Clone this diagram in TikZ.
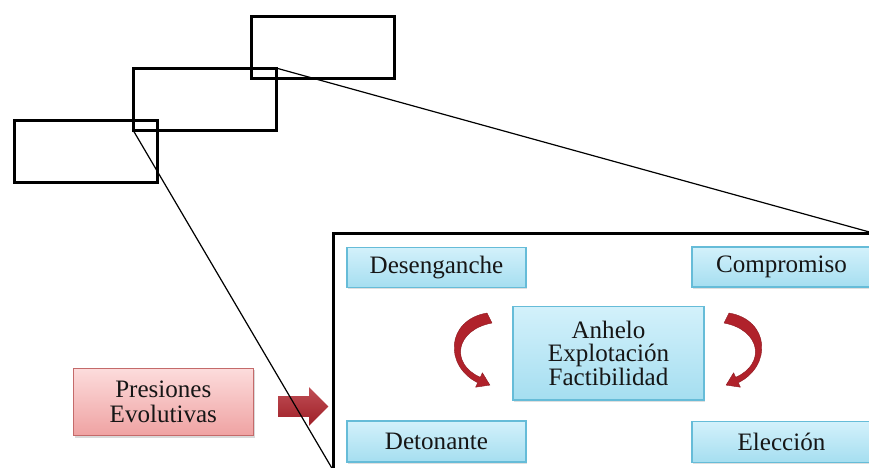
\documentclass[tikz,border=0pt]{standalone}
\usepackage{fontspec}
\setmainfont{Liberation Serif}
\usetikzlibrary{shadows,shapes.arrows}

\definecolor{boxtop}{HTML}{D3F1FB}
\definecolor{boxbot}{HTML}{A5DEF0}
\definecolor{boxline}{HTML}{66BCD8}
\definecolor{pinktop}{HTML}{FCDCDC}
\definecolor{pinkbot}{HTML}{EFA2A2}
\definecolor{pinkline}{HTML}{C46A6A}
\definecolor{swoosh}{HTML}{B0222B}
\definecolor{txt}{HTML}{161616}

\tikzset{
  zoomrect/.style={draw=black, line width=2.25pt, inner sep=0pt, outer sep=0pt,
    minimum width=107.25pt, minimum height=46.5pt},
  zoomline/.style={draw=black, line width=0.9pt},
  stage/.style={draw=boxline, line width=0.8pt, top color=boxtop, bottom color=boxbot,
    text=txt, font=\fontsize{18.8}{17.8}\selectfont, inner sep=0pt, align=center,
    minimum width=134.25pt,
    drop shadow={opacity=0.25, shadow xshift=1pt, shadow yshift=-1.2pt}},
  pressure/.style={draw=pinkline, line width=0.8pt, top color=pinktop, bottom color=pinkbot,
    text=txt, font=\fontsize{18.8}{18.6}\selectfont, inner sep=0pt, align=center,
    drop shadow={opacity=0.3, shadow xshift=1.2pt, shadow yshift=-1.5pt}},
  swooshfill/.style={fill=swoosh, draw=swoosh!80!black, line width=0.3pt, line join=round}
}

% one curved arrow, thick at its start, tapering towards the head
\newcommand\swooshpath{%
  (487,313) .. controls (446,320) and (444,366) .. (477.7,382.7)
  -- (475.6,387.2) -- (489.9,385.1) -- (482.4,372.8) -- (480.3,377.3)
  .. controls (450,364) and (455,330) .. (492,323) -- cycle}

\begin{document}
\begin{tikzpicture}[x=0.75pt,y=-0.75pt]
\useasboundingbox (0,0) rectangle (869,468);
\clip (0,0) rectangle (869,468);

% three overlapping outline rectangles
\node[zoomrect] (rectA) at (85.5,151) {};
\node[zoomrect] (rectB) at (204.5,99) {};
\node[zoomrect] (rectC) at (323,47) {};

% enlarged frame
\node[draw=black, line width=2.25pt, inner sep=0pt, outer sep=0pt,
      minimum width=405pt, minimum height=177.75pt] (frame) at (603,351.5) {};

% stages inside the frame
\node[stage, minimum height=30.4pt] (des) at (436.5,267.5) {Desenganche};
\node[stage, minimum height=30.75pt] (det) at (436.5,441.5) {Detonante};
\node[stage, minimum height=30pt] (com) at (781.5,267) {Compromiso};
\node[stage, minimum height=30.75pt] (ele) at (781.5,442) {Elección};
\node[stage, minimum width=143.25pt, minimum height=70pt] (core) at (608.5,353.3)
  {Anhelo\\Explotación\\Factibilidad};

% cycling arrows around the core
\fill[swooshfill] \swooshpath;
\begin{scope}[shift={(1216,0)}, xscale=-1]
  \fill[swooshfill] \swooshpath;
\end{scope}

% external pressure
\node[pressure, minimum width=135pt, minimum height=50.6pt] (pres) at (163.3,402)
  {Presiones\\Evolutivas};
\node[single arrow, draw=none, top color=swoosh!80, bottom color=swoosh!90!black,
      minimum height=37.5pt, single arrow head extend=6.75pt,
      inner ysep=7.5pt, inner xsep=0pt] (push) at (298.3,406.5) {};

% zoom guide lines
\draw[zoomline] (rectB.north east) -- (frame.north east);
\draw[zoomline] (rectB.south west) -- (frame.south west);
\end{tikzpicture}
\end{document}
